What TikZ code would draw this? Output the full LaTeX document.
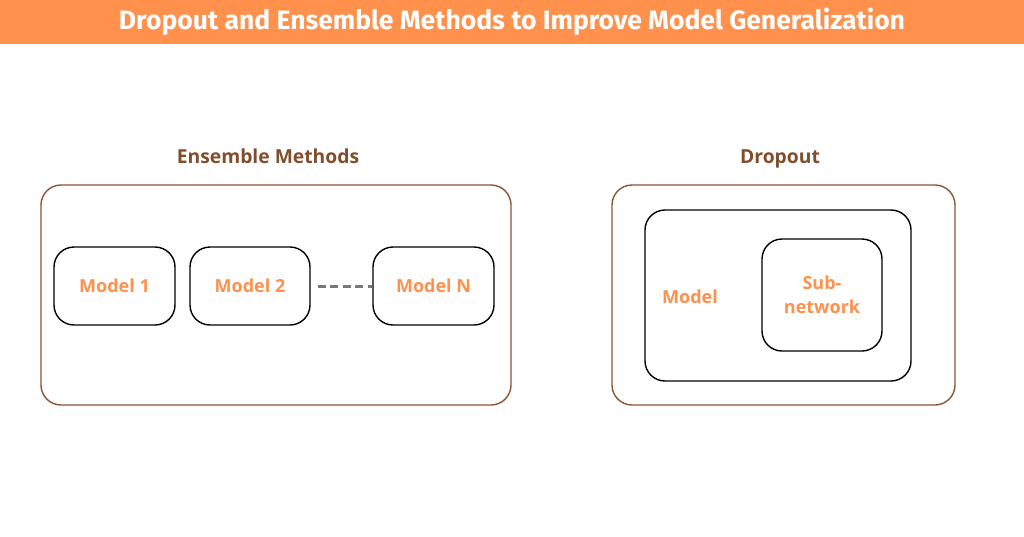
\documentclass[tikz,border=0pt]{standalone}
\usepackage{fontspec}
\setmainfont{Open Sans}
\newfontfamily\titlefont{Fira Sans}
\definecolor{orng}{RGB}{255,145,77}
\definecolor{brwn}{RGB}{128,78,45}
\definecolor{outerbrown}{RGB}{140,85,55}
\definecolor{dashgray}{RGB}{120,120,120}
\begin{document}
\begin{tikzpicture}[x=1pt,y=-1pt,
  outerbox/.style={draw=outerbrown, line width=1.4pt, rounded corners=20pt},
  innerbox/.style={draw=black, line width=1.4pt, rounded corners=20pt},
  heading/.style={text=brwn, font=\bfseries\fontsize{19.3}{22}\selectfont, anchor=base},
  lbl/.style={text=orng, font=\fontsize{18}{24}\selectfont\bfseries, align=center}]
\useasboundingbox (0,0) rectangle (1024,536);
\fill[white] (0,0) rectangle (1024,536);
\fill[orng] (0,0) rectangle (1024,44);
\node[text=white] (title) at (512,22) {\resizebox{786pt}{!}{\titlefont\bfseries Dropout and Ensemble Methods to Improve Model Generalization}};

% Ensemble methods
\node[heading] (enshead) at (268,163) {Ensemble Methods};
\draw[outerbox] (41,185) rectangle (511,405);
\node[innerbox, minimum width=121pt, minimum height=78pt] (m1) at (114.5,286) {};
\node[lbl] at (m1) {Model 1};
\node[innerbox, minimum width=120pt, minimum height=78pt] (m2) at (250,286) {};
\node[lbl] at (m2) {Model 2};
\node[innerbox, minimum width=121pt, minimum height=78pt] (mn) at (433.5,286) {};
\node[lbl] at (mn) {Model N};
\draw[dashgray, line width=3pt, dash pattern=on 8pt off 4.5pt] ([xshift=7pt]m2.east) -- (mn.west);

% Dropout
\node[heading] (drophead) at (780,163) {Dropout};
\draw[outerbox] (612,185) rectangle (955,405);
\node[innerbox, minimum width=266pt, minimum height=171pt] (model) at (778,295.5) {};
\node[lbl] (modellbl) at (690,297) {Model};
\node[innerbox, minimum width=120pt, minimum height=112pt] (sub) at (822,295) {};
\node[lbl] at (822,295) {Sub-\\network};
\end{tikzpicture}
\end{document}
